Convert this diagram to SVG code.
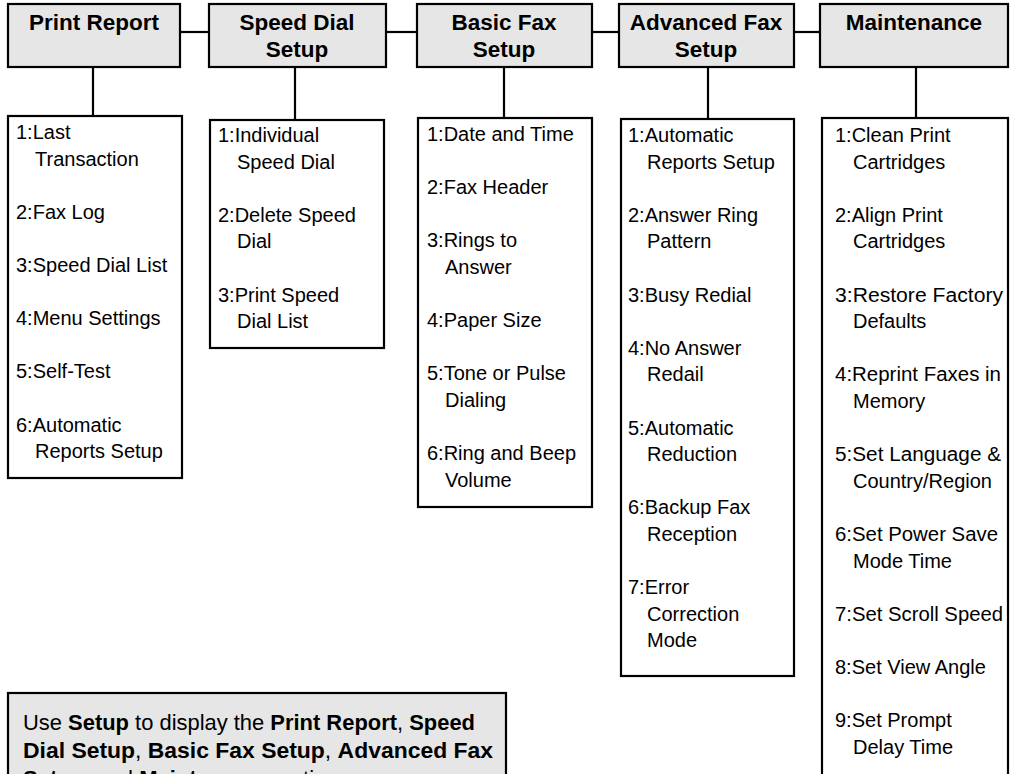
<svg xmlns="http://www.w3.org/2000/svg" width="1010" height="774" viewBox="0 0 1010 774">
<style>
.hdr{fill:#e6e6e6;stroke:#000;stroke-width:2.2}
.lst{fill:#fff;stroke:#000;stroke-width:2.2}
.ht{font-family:"Liberation Sans",Arial,sans-serif;font-weight:bold;font-size:22.5px;text-anchor:middle;fill:#000}
.t{font-family:"Liberation Sans",Arial,sans-serif;font-size:20px;fill:#000}
.n{font-family:"Liberation Sans",Arial,sans-serif;font-size:22px;fill:#000}
.b{font-weight:bold}
.c{stroke:#000;stroke-width:2.2;fill:none}
</style>
<rect width="1010" height="774" fill="#fff"/>
<g id="connectors">
<line class="c" x1="180" y1="32" x2="209" y2="32"/>
<line class="c" x1="386" y1="32" x2="417" y2="32"/>
<line class="c" x1="592" y1="32" x2="619" y2="32"/>
<line class="c" x1="794" y1="32" x2="820" y2="32"/>
<line class="c" x1="93" y1="67" x2="93" y2="116"/>
<line class="c" x1="295" y1="67" x2="295" y2="120"/>
<line class="c" x1="504" y1="67" x2="504" y2="118"/>
<line class="c" x1="708" y1="67" x2="708" y2="119"/>
<line class="c" x1="916" y1="67" x2="916" y2="118"/>
</g>
<g id="print-report">
<rect class="hdr" x="8" y="4" width="172" height="63"/>
<text class="ht" x="94" y="30">Print Report</text>
</g>
<g id="speed-dial-setup">
<rect class="hdr" x="209" y="4" width="177" height="63"/>
<text class="ht" x="297" y="30">Speed Dial</text>
<text class="ht" x="297" y="57">Setup</text>
</g>
<g id="basic-fax-setup">
<rect class="hdr" x="417" y="4" width="175" height="63"/>
<text class="ht" x="504" y="30">Basic Fax</text>
<text class="ht" x="504" y="57">Setup</text>
</g>
<g id="advanced-fax-setup">
<rect class="hdr" x="619" y="4" width="175" height="63"/>
<text class="ht" x="706" y="30">Advanced Fax</text>
<text class="ht" x="706" y="57">Setup</text>
</g>
<g id="maintenance">
<rect class="hdr" x="820" y="4" width="188" height="63"/>
<text class="ht" x="914" y="30">Maintenance</text>
</g>
<g id="print-report-list">
<rect class="lst" x="8" y="116" width="174" height="362"/>
<text class="t" x="16" y="139">1:Last</text>
<text class="t" x="35" y="165.6">Transaction</text>
<text class="t" x="16" y="218.8">2:Fax Log</text>
<text class="t" x="16" y="272">3:Speed Dial List</text>
<text class="t" x="16" y="325.2">4:Menu Settings</text>
<text class="t" x="16" y="378.4">5:Self-Test</text>
<text class="t" x="16" y="431.6">6:Automatic</text>
<text class="t" x="35" y="458.2">Reports Setup</text>
</g>
<g id="speed-dial-list">
<rect class="lst" x="210" y="120" width="174" height="228"/>
<text class="t" x="218" y="142">1:Individual</text>
<text class="t" x="237" y="168.6">Speed Dial</text>
<text class="t" x="218" y="221.8">2:Delete Speed</text>
<text class="t" x="237" y="248.4">Dial</text>
<text class="t" x="218" y="301.6">3:Print Speed</text>
<text class="t" x="237" y="328.2">Dial List</text>
</g>
<g id="basic-fax-list">
<rect class="lst" x="418" y="118" width="174" height="389"/>
<text class="t" x="427" y="141">1:Date and Time</text>
<text class="t" x="427" y="194.2">2:Fax Header</text>
<text class="t" x="427" y="247.4">3:Rings to</text>
<text class="t" x="445" y="274">Answer</text>
<text class="t" x="427" y="327.2">4:Paper Size</text>
<text class="t" x="427" y="380.4">5:Tone or Pulse</text>
<text class="t" x="445" y="407">Dialing</text>
<text class="t" x="427" y="460.2">6:Ring and Beep</text>
<text class="t" x="445" y="486.8">Volume</text>
</g>
<g id="advanced-fax-list">
<rect class="lst" x="621" y="119" width="173" height="557"/>
<text class="t" x="628" y="142">1:Automatic</text>
<text class="t" x="647" y="168.6">Reports Setup</text>
<text class="t" x="628" y="221.8">2:Answer Ring</text>
<text class="t" x="647" y="248.4">Pattern</text>
<text class="t" x="628" y="301.6">3:Busy Redial</text>
<text class="t" x="628" y="354.8">4:No Answer</text>
<text class="t" x="647" y="381.4">Redail</text>
<text class="t" x="628" y="434.6">5:Automatic</text>
<text class="t" x="647" y="461.2">Reduction</text>
<text class="t" x="628" y="514.4">6:Backup Fax</text>
<text class="t" x="647" y="541">Reception</text>
<text class="t" x="628" y="594.2">7:Error</text>
<text class="t" x="647" y="620.8">Correction</text>
<text class="t" x="647" y="647.4">Mode</text>
</g>
<g id="maintenance-list">
<rect class="lst" x="822" y="118" width="186" height="700"/>
<text class="t" x="835" y="142">1:Clean Print</text>
<text class="t" x="853" y="168.6">Cartridges</text>
<text class="t" x="835" y="221.8">2:Align Print</text>
<text class="t" x="853" y="248.4">Cartridges</text>
<text class="t" x="835" y="301.6" textLength="168" lengthAdjust="spacingAndGlyphs">3:Restore Factory</text>
<text class="t" x="853" y="328.2">Defaults</text>
<text class="t" x="835" y="381.4" textLength="166" lengthAdjust="spacingAndGlyphs">4:Reprint Faxes in</text>
<text class="t" x="853" y="408">Memory</text>
<text class="t" x="835" y="461.2" textLength="166" lengthAdjust="spacingAndGlyphs">5:Set Language &amp;</text>
<text class="t" x="853" y="487.8">Country/Region</text>
<text class="t" x="835" y="541" textLength="163" lengthAdjust="spacingAndGlyphs">6:Set Power Save</text>
<text class="t" x="853" y="567.6">Mode Time</text>
<text class="t" x="835" y="620.8" textLength="168" lengthAdjust="spacingAndGlyphs">7:Set Scroll Speed</text>
<text class="t" x="835" y="674">8:Set View Angle</text>
<text class="t" x="835" y="727.2">9:Set Prompt</text>
<text class="t" x="853" y="753.8">Delay Time</text>
</g>
<g id="note">
<rect class="hdr" x="8" y="693" width="498" height="120"/>
<text class="n" x="23" y="730" textLength="452" lengthAdjust="spacingAndGlyphs">Use <tspan class="b">Setup</tspan> to display the <tspan class="b">Print Report</tspan>, <tspan class="b">Speed</tspan></text>
<text class="n" x="23" y="758" textLength="470" lengthAdjust="spacingAndGlyphs"><tspan class="b">Dial Setup</tspan>, <tspan class="b">Basic Fax Setup</tspan>, <tspan class="b">Advanced Fax</tspan></text>
<text class="n" x="23" y="786"><tspan class="b">Setup</tspan>, and <tspan class="b">Maintenance</tspan> options.</text>
</g>
</svg>
